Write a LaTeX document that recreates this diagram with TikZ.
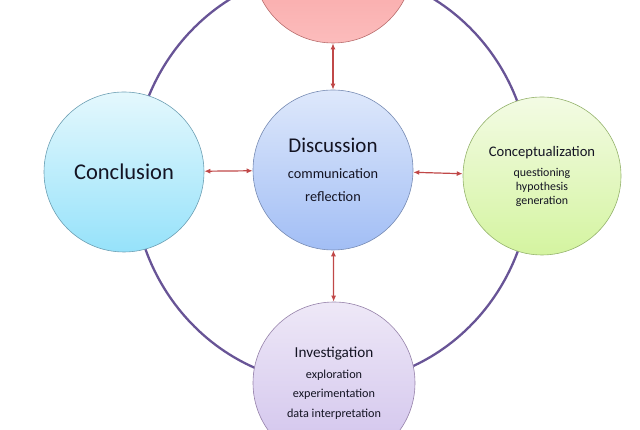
\documentclass[tikz,border=0pt]{standalone}
\usepackage{fontspec}
\setmainfont{Carlito}
\usetikzlibrary{arrows.meta,shadings}

\definecolor{ringpurple}{RGB}{104,84,150}
\definecolor{linkred}{RGB}{192,72,72}
\definecolor{txtdark}{RGB}{20,20,35}
\definecolor{redtop}{RGB}{244,146,146}
\definecolor{redbot}{RGB}{252,188,188}
\definecolor{redline}{RGB}{185,110,110}
\definecolor{bluetop}{RGB}{222,232,251}
\definecolor{bluebot}{RGB}{162,190,245}
\definecolor{blueline}{RGB}{120,140,180}
\definecolor{cyantop}{RGB}{228,248,253}
\definecolor{cyanbot}{RGB}{150,226,250}
\definecolor{cyanline}{RGB}{110,160,180}
\definecolor{greentop}{RGB}{243,251,228}
\definecolor{greenbot}{RGB}{212,244,160}
\definecolor{greenline}{RGB}{150,180,110}
\definecolor{lilactop}{RGB}{238,232,247}
\definecolor{lilacbot}{RGB}{208,194,236}
\definecolor{lilacline}{RGB}{150,130,170}

\tikzset{
  stage/.style={circle,minimum size=160pt,inner sep=0pt,align=center,
    text=txtdark,line width=0.6pt},
  link/.style={{Latex[length=6pt,width=5pt]}-{Latex[length=6pt,width=5pt]},
    draw=linkred,line width=1.2pt},
  ring/.style={draw=ringpurple,line width=2.3pt}
}

\begin{document}
\begin{tikzpicture}[x=1pt,y=1pt]
    \useasboundingbox (0,0) rectangle (640,430);
    \clip (0,0) rectangle (640,430);

    % outer cycle
    \draw[ring] (332,253) ellipse [x radius=199pt,y radius=207pt];

    \node[stage,draw=redline,top color=redtop,bottom color=redbot] (topc) at (333,467) {};
    \node[stage,draw=blueline,top color=bluetop,bottom color=bluebot,
      font=\fontsize{14.3}{23}\selectfont] (disc) at (333,260)
      {{\fontsize{21}{23}\selectfont Discussion}\\[3.5pt] communication\\ reflection};
    \node[stage,draw=cyanline,top color=cyantop,bottom color=cyanbot,
      font=\fontsize{22.5}{26}\selectfont] (concl) at (124,258) {Conclusion};
    \node[stage,draw=greenline,top color=greentop,bottom color=greenbot,minimum size=158pt,
      font=\fontsize{11.9}{14}\selectfont] (concept) at (542,254)
      {{\fontsize{14.6}{14}\selectfont Conceptualization}\\[6pt] questioning\\ hypothesis\\ generation};
    \node[stage,draw=lilacline,top color=lilactop,bottom color=lilacbot,minimum size=162pt,
      font=\fontsize{12.2}{19.5}\selectfont] (invest) at (334,47)
      {{\fontsize{15.2}{19.5}\selectfont Investigation}\\[1.5pt] exploration\\ experimentation\\ data interpretation};

    \draw[link] (topc) -- (disc);
    \draw[link] (concl) -- (disc);
    \draw[link] (disc) -- (concept);
    \draw[link] (disc) -- (invest);
\end{tikzpicture}
\end{document}
